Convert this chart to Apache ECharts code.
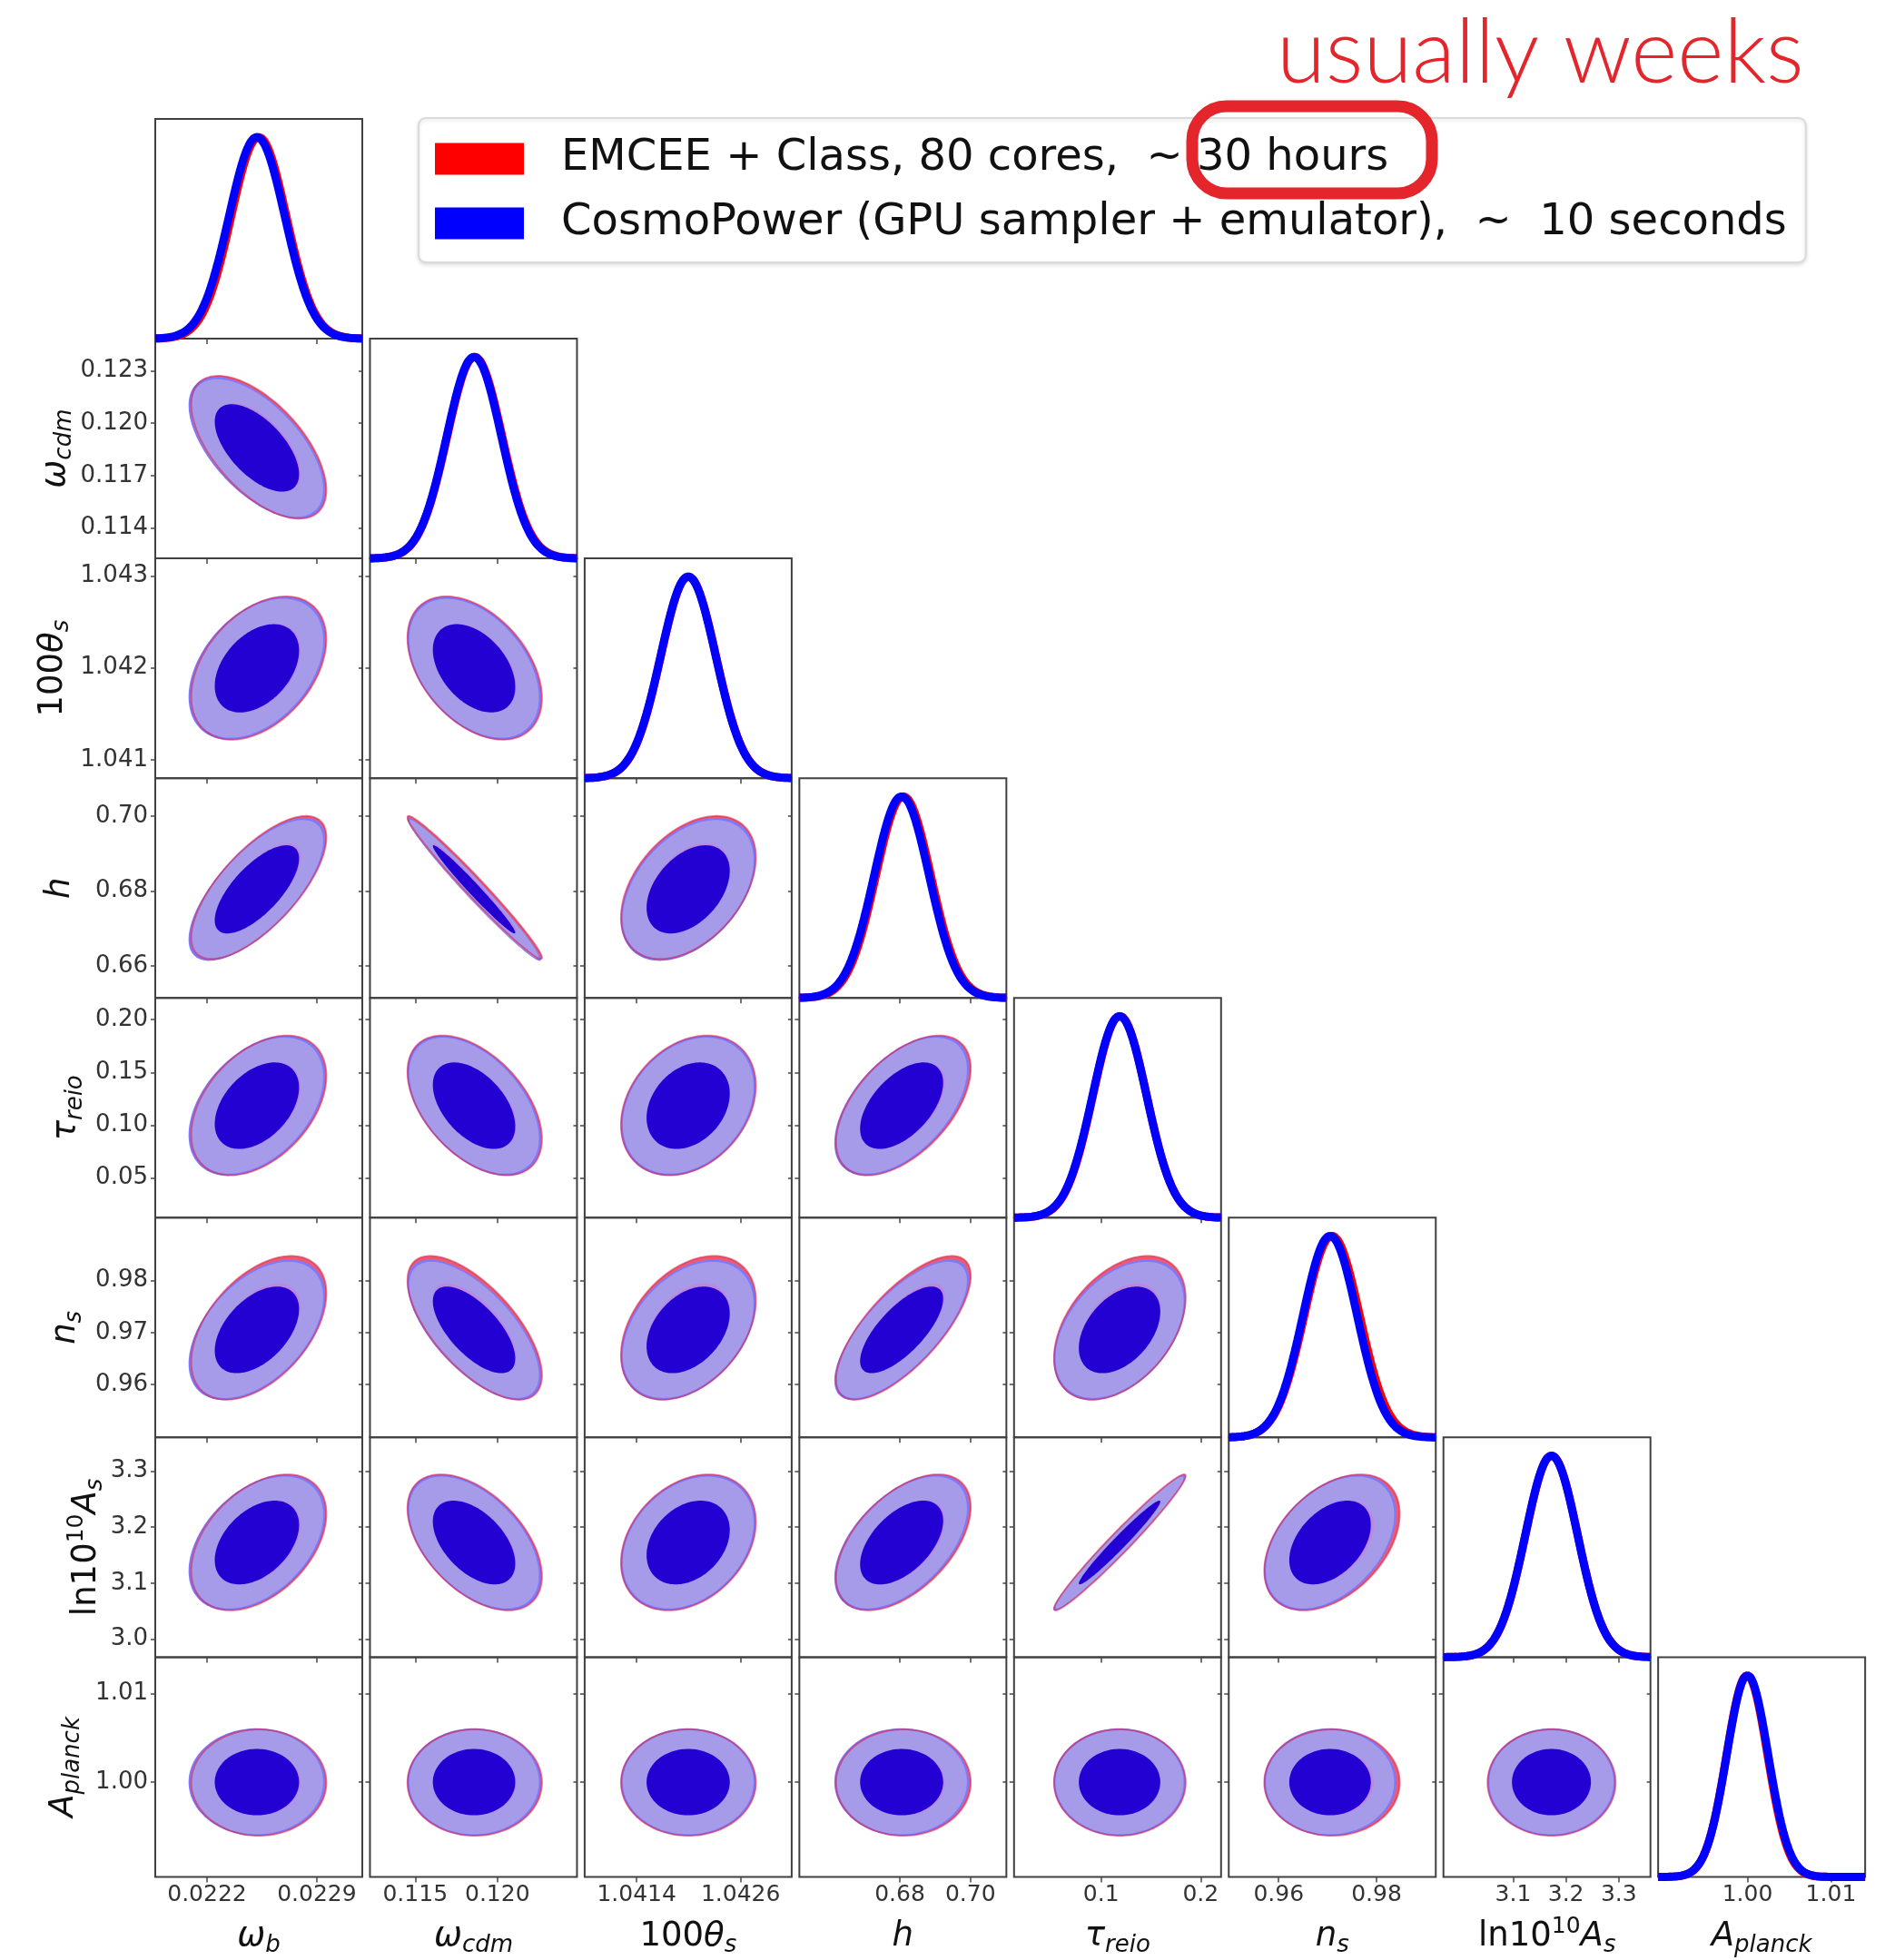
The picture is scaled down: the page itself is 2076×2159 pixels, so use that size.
<!DOCTYPE html>
<html>
<head>
<meta charset="utf-8">
<title>Posterior comparison: EMCEE + Class vs CosmoPower</title>
<script src="https://cdn.jsdelivr.net/npm/echarts@6/dist/echarts.min.js"></script>
<style>
  html, body { margin: 0; padding: 0; background: #ffffff; }
  #chart { width: 2076px; height: 2159px; }
</style>
</head>
<body>
<div id="chart"></div>
<script>
// ---------------------------------------------------------------
// Cosmological parameters, in corner-plot order
// ---------------------------------------------------------------
const PARAM_KEYS = ['omega_b', 'omega_cdm', '100theta_s', 'h', 'tau_reio', 'n_s', 'ln10^10A_s', 'A_planck'];

// Plotted range of every parameter
const AXIS_MIN = [0.02187, 0.11225, 1.04080, 0.6515, 0.0125, 0.9498, 2.968, 0.9893];
const AXIS_MAX = [0.02319, 0.12484, 1.04319, 0.7102, 0.2205, 0.9921, 3.360, 1.0141];

// Tick labels (bottom axes per column, left axes per row)
const X_TICK_LABELS = [
  ['0.0222', '0.0229'],
  ['0.115', '0.120'],
  ['1.0414', '1.0426'],
  ['0.68', '0.70'],
  ['0.1', '0.2'],
  ['0.96', '0.98'],
  ['3.1', '3.2', '3.3'],
  ['1.00', '1.01']
];
const Y_TICK_LABELS = [
  [],
  ['0.114', '0.117', '0.120', '0.123'],
  ['1.041', '1.042', '1.043'],
  ['0.66', '0.68', '0.70'],
  ['0.05', '0.10', '0.15', '0.20'],
  ['0.96', '0.97', '0.98'],
  ['3.0', '3.1', '3.2', '3.3'],
  ['1.00', '1.01']
];

// Posterior summaries: EMCEE + Class run
const MEAN_RED  = [0.022530, 0.11862, 1.041998, 0.6810, 0.1188, 0.9709, 3.1728, 0.99995];
const SIGMA_RED = [0.000176, 0.00167, 0.000318, 0.0078, 0.0270, 0.00565, 0.0495, 0.00245];

// Posterior summaries: CosmoPower run
const MEAN_BLUE  = [0.022518, 0.11858, 1.041995, 0.6805, 0.1185, 0.9705, 3.1725, 1.00000];
const SIGMA_BLUE = [0.000178, 0.00166, 0.000318, 0.0078, 0.0271, 0.00552, 0.0495, 0.00248];

// Correlation coefficients, lower triangle (row = y parameter, column = x parameter)
const CORR_ROW_1 = [-0.60];
const CORR_ROW_2 = [0.40, -0.42];
const CORR_ROW_3 = [0.70, -0.982, 0.42];
const CORR_ROW_4 = [0.42, -0.48, 0.28, 0.53];
const CORR_ROW_5 = [0.48, -0.66, 0.38, 0.72, 0.42];
const CORR_ROW_6 = [0.42, -0.50, 0.30, 0.52, 0.977, 0.42];
const CORR_ROW_7 = [0.0, 0.0, 0.0, 0.0, 0.0, 0.0, 0.0];
const CORR = [[], CORR_ROW_1, CORR_ROW_2, CORR_ROW_3, CORR_ROW_4, CORR_ROW_5, CORR_ROW_6, CORR_ROW_7];

const RED_LABEL  = 'EMCEE + Class, 80 cores,  ~ 30 hours';
const BLUE_LABEL = 'CosmoPower (GPU sampler + emulator),  ~  10 seconds';

// ---------------------------------------------------------------
// Layout and styling
// ---------------------------------------------------------------
const LAYOUT = { left0: 171, colPitch: 236.45, panelW: 228, top0: 131, rowPitch: 242.06 };
const N = PARAM_KEYS.length;
const FONT = 'DejaVu Sans';
const TICK_COLOR = '#454545';
const RED = '#ff0000';
const BLUE = '#0000ff';

// 2D Gaussian credible regions: radius in sigma units enclosing 68% / 95%
const R68 = Math.sqrt(-2 * Math.log(1 - 0.68));
const R95 = Math.sqrt(-2 * Math.log(1 - 0.95));

// Contour layers, painted bottom to top
const LAYERS = [
  { run: 'red',  radius: R95, shrink: 1.000, fill: '#ee5b6e' },
  { run: 'blue', radius: R95, shrink: 1.000, fill: '#7c79ff' },
  { run: 'blue', radius: R95, shrink: 0.970, fill: '#a69be9' },
  { run: 'red',  radius: R95, shrink: 1.000, fill: null, stroke: 'rgba(215,40,85,0.6)', lineWidth: 2 },
  { run: 'red',  radius: R68, shrink: 1.000, fill: '#bb88e0' },
  { run: 'blue', radius: R68, shrink: 1.000, fill: '#2301d3' }
];

// Axis titles as rich-text tokens
const NAME_TOKENS = [
  [['v', 'ω'], ['sub', 'b']],
  [['v', 'ω'], ['sub', 'cdm']],
  [['n', '100'], ['v', 'θ'], ['sub', 's']],
  [['v', 'h']],
  [['v', 'τ'], ['sub', 'reio']],
  [['v', 'n'], ['sub', 's']],
  [['n', 'ln10'], ['sup', '10'], ['v', 'A'], ['sub', 's']],
  [['v', 'A'], ['sub', 'planck']]
];
const Y_NAME_X = [0, 61, 58, 66, 73, 72, 95, 70];
const X_NAME_Y = 2133;

const NAME_RICH = {
  n:   { fontFamily: FONT, fontSize: 37, color: '#111', lineHeight: 44 },
  v:   { fontFamily: FONT, fontSize: 37, fontStyle: 'italic', color: '#111', lineHeight: 44 },
  sub: { fontFamily: FONT, fontSize: 26, fontStyle: 'italic', color: '#111', lineHeight: 28, padding: [20, 0, 0, 0] },
  sup: { fontFamily: FONT, fontSize: 25, color: '#111', lineHeight: 28, padding: [0, 0, 22, 0] }
};

// ---------------------------------------------------------------
// Helpers
// ---------------------------------------------------------------
function tickValues(labels) { return labels.map(s => parseFloat(s)); }

function tickFormatter(labels) {
  return function (v) {
    let best = labels[0], d = Infinity;
    for (const s of labels) {
      const e = Math.abs(parseFloat(s) - v);
      if (e < d) { d = e; best = s; }
    }
    return best;
  };
}

// Points of the iso-probability ellipse of a correlated 2D Gaussian (data space)
function ellipse(mx, my, sx, sy, rho, rad, n) {
  const pts = [];
  const q = Math.sqrt(Math.max(0, 1 - rho * rho));
  for (let k = 0; k < n; k++) {
    const t = 2 * Math.PI * k / n;
    pts.push([mx + rad * sx * Math.cos(t), my + rad * sy * (rho * Math.cos(t) + q * Math.sin(t))]);
  }
  return pts;
}

// Normalised 1D marginal density sampled across the axis range
function marginal(i, mean, sigma) {
  const pts = [];
  const steps = 160;
  for (let k = 0; k <= steps; k++) {
    const x = AXIS_MIN[i] + (AXIS_MAX[i] - AXIS_MIN[i]) * k / steps;
    const z = (x - mean) / sigma;
    pts.push([x, Math.exp(-0.5 * z * z)]);
  }
  return pts;
}

function richText(tokens) {
  return tokens.map(t => '{' + t[0] + '|' + t[1] + '}').join('');
}

// ---------------------------------------------------------------
// Build the corner plot
// ---------------------------------------------------------------
const grids = [], xAxes = [], yAxes = [], series = [];
let gridIndex = 0;

for (let r = 0; r < N; r++) {
  for (let c = 0; c <= r; c++) {
    grids.push({
      left: LAYOUT.left0 + c * LAYOUT.colPitch,
      top: LAYOUT.top0 + r * LAYOUT.rowPitch,
      width: LAYOUT.panelW,
      height: LAYOUT.rowPitch,
      show: true,
      borderColor: '#404040',
      borderWidth: 2,
      backgroundColor: 'transparent',
      containLabel: false,
      outerBoundsMode: 'none'
    });

    const xTicks = tickValues(X_TICK_LABELS[c]);
    xAxes.push({
      type: 'value', gridIndex: gridIndex,
      min: AXIS_MIN[c], max: AXIS_MAX[c],
      axisLine: { show: false },
      splitLine: { show: false },
      axisTick: { show: true, inside: false, length: 6, customValues: xTicks, lineStyle: { color: TICK_COLOR, width: 1.5 } },
      axisLabel: {
        show: r === N - 1, customValues: xTicks, formatter: tickFormatter(X_TICK_LABELS[c]),
        fontFamily: FONT, fontSize: 25, color: '#333', margin: 8
      }
    });

    if (r === c) {
      const yIdx = yAxes.length;
      yAxes.push({ type: 'value', gridIndex: gridIndex, min: 0, max: 1.09, show: false });
      series.push({
        type: 'line', name: RED_LABEL, xAxisIndex: gridIndex, yAxisIndex: yIdx,
        data: marginal(c, MEAN_RED[c], SIGMA_RED[c]),
        showSymbol: false, symbol: 'none', clip: false, silent: true, z: 3,
        lineStyle: { color: RED, width: 9 }, itemStyle: { color: RED }
      });
      series.push({
        type: 'line', name: BLUE_LABEL, xAxisIndex: gridIndex, yAxisIndex: yIdx,
        data: marginal(c, MEAN_BLUE[c], SIGMA_BLUE[c]),
        showSymbol: false, symbol: 'none', clip: false, silent: true, z: 4,
        lineStyle: { color: BLUE, width: 9 }, itemStyle: { color: BLUE }
      });
    } else {
      const yTicks = tickValues(Y_TICK_LABELS[r]);
      const yIdx = yAxes.length;
      yAxes.push({
        type: 'value', gridIndex: gridIndex, position: 'left',
        min: AXIS_MIN[r], max: AXIS_MAX[r],
        axisLine: { show: false },
        splitLine: { show: false },
        axisTick: { show: true, inside: false, length: 5, customValues: yTicks, lineStyle: { color: TICK_COLOR, width: 1.5 } },
        axisLabel: {
          show: c === 0, customValues: yTicks, formatter: tickFormatter(Y_TICK_LABELS[r]),
          fontFamily: FONT, fontSize: 26, color: '#333', margin: 8
        }
      });
      // mirrored ticks on the right edge of each panel
      yAxes.push({
        type: 'value', gridIndex: gridIndex, position: 'right',
        min: AXIS_MIN[r], max: AXIS_MAX[r],
        axisLine: { show: false },
        splitLine: { show: false },
        axisTick: { show: true, inside: true, length: 4, customValues: yTicks, lineStyle: { color: TICK_COLOR, width: 1.5 } },
        axisLabel: { show: false }
      });

      const rho = CORR[r][c];
      const stats = {
        red:  { mx: MEAN_RED[c],  my: MEAN_RED[r],  sx: SIGMA_RED[c],  sy: SIGMA_RED[r] },
        blue: { mx: MEAN_BLUE[c], my: MEAN_BLUE[r], sx: SIGMA_BLUE[c], sy: SIGMA_BLUE[r] }
      };
      series.push({
        type: 'custom', coordinateSystem: 'cartesian2d',
        xAxisIndex: gridIndex, yAxisIndex: yIdx,
        silent: true, clip: false, z: 2,
        data: LAYERS.map((L, i) => [stats[L.run].mx, stats[L.run].my, i]),
        renderItem: function (params, api) {
          const L = LAYERS[api.value(2)];
          const s = stats[L.run];
          const pts = ellipse(s.mx, s.my, s.sx, s.sy, rho, L.radius * L.shrink, 144).map(p => api.coord(p));
          return {
            type: 'polygon',
            z2: api.value(2),
            shape: { points: pts },
            style: {
              fill: L.fill || 'none',
              stroke: L.stroke || null,
              lineWidth: L.lineWidth || 0
            }
          };
        }
      });
    }
    gridIndex++;
  }
}

// Axis titles
const graphics = [];
for (let i = 0; i < N; i++) {
  graphics.push({
    type: 'text', silent: true, z: 50,
    x: LAYOUT.left0 + i * LAYOUT.colPitch + LAYOUT.panelW / 2,
    y: X_NAME_Y,
    style: { text: richText(NAME_TOKENS[i]), rich: NAME_RICH, align: 'center', verticalAlign: 'middle', fill: '#111' }
  });
  if (i > 0) {
    graphics.push({
      type: 'text', silent: true, z: 50,
      x: Y_NAME_X[i],
      y: LAYOUT.top0 + i * LAYOUT.rowPitch + LAYOUT.rowPitch / 2,
      rotation: Math.PI / 2,
      style: { text: richText(NAME_TOKENS[i]), rich: NAME_RICH, align: 'center', verticalAlign: 'middle', fill: '#111' }
    });
  }
}

// Annotation on the legend timing
graphics.push({
  type: 'text', silent: true, z: 60,
  x: 1406, y: 59,
  style: { text: 'usually weeks', fontFamily: 'Lato', fontWeight: 300, fontSize: 98, fill: '#e4252b', align: 'left', verticalAlign: 'middle' }
});
graphics.push({
  type: 'rect', silent: true, z: 60,
  shape: { x: 1313, y: 117, width: 264, height: 96, r: 38 },
  style: { fill: 'none', stroke: '#e4252b', lineWidth: 13 }
});

const option = {
  backgroundColor: '#ffffff',
  animation: false,
  grid: grids,
  xAxis: xAxes,
  yAxis: yAxes,
  legend: {
    data: [RED_LABEL, BLUE_LABEL],
    orient: 'vertical',
    left: 461, top: 130,
    padding: [17, 21, 15, 18],
    itemGap: 15,
    itemWidth: 98, itemHeight: 35,
    icon: 'rect',
    selectedMode: false,
    backgroundColor: '#ffffff',
    borderColor: '#dadada',
    borderWidth: 2,
    borderRadius: 8,
    shadowColor: 'rgba(0,0,0,0.12)',
    shadowBlur: 4,
    shadowOffsetY: 2,
    textStyle: { fontFamily: FONT, fontSize: 48, color: '#111', padding: [0, 0, 0, 36], lineHeight: 56 }
  },
  graphic: graphics,
  series: series
};

const chart = echarts.init(document.getElementById('chart'), null, { renderer: 'canvas', width: 2076, height: 2159 });
chart.setOption(option);
</script>
</body>
</html>
